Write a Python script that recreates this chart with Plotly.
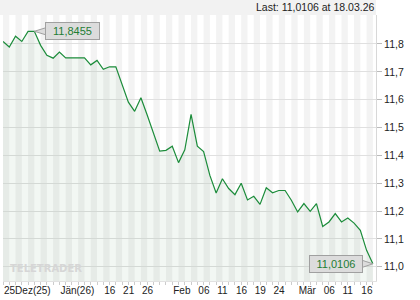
import plotly.graph_objects as go
import pandas as pd

# ---- data ----
dates = list(pd.bdate_range("2025-12-25", "2026-03-18"))
values = [
    11.809, 11.789, 11.828, 11.809, 11.845, 11.8455, 11.795, 11.759, 11.749, 11.771,
    11.750, 11.750, 11.750, 11.750, 11.725, 11.741, 11.709, 11.718, 11.718, 11.655,
    11.591, 11.558, 11.607, 11.545, 11.478, 11.415, 11.418, 11.433, 11.374, 11.420,
    11.547, 11.433, 11.414, 11.328, 11.265, 11.316, 11.281, 11.259, 11.300, 11.240,
    11.253, 11.224, 11.284, 11.266, 11.274, 11.274, 11.239, 11.197, 11.227, 11.199,
    11.227, 11.145, 11.161, 11.191, 11.161, 11.175, 11.157, 11.131, 11.059, 11.0106,
]
label_dates = ["2025-12-25", "2026-01-07", "2026-01-16", "2026-01-21", "2026-01-26",
               "2026-02-02", "2026-02-06", "2026-02-11", "2026-02-16", "2026-02-19",
               "2026-02-24", "2026-03-02", "2026-03-06", "2026-03-11", "2026-03-16"]
label_texts = ["25Dez(25)", "Jän(26)", "16", "21", "26",
               "Feb", "06", "11", "16", "19",
               "24", "Mär", "06", "11", "16"]
y_ticks = [11.0, 11.1, 11.2, 11.3, 11.4, 11.5, 11.6, 11.7, 11.8]

n = len(values)
x = list(range(n))
date_idx = {d.strftime("%Y-%m-%d"): i for i, d in enumerate(dates)}
tickvals = [date_idx[d] for d in label_dates]

def fmt(v):
    return f"{v:.4f}".replace(".", ",")

GREEN = "#1b8c3a"
TXT_GREEN = "#1f7d34"
FONT = "Liberation Sans"

fig = go.Figure()

# alternating day stripes
for i in range(0, n, 2):
    fig.add_shape(type="rect", xref="x", yref="paper", x0=i, x1=i + 1, y0=0, y1=1,
                  fillcolor="#f3f3f3", line_width=0, layer="below")

# header band
fig.add_shape(type="rect", xref="paper", yref="paper", x0=-3 / 373, x1=1,
              y0=1, y1=1 + 15 / 266, fillcolor="#f2f2f2", line_width=0, layer="below")

fig.add_trace(go.Scatter(
    x=x, y=values, mode="lines",
    line=dict(color=GREEN, width=1.2),
    fill="tozeroy", fillcolor="rgba(40,120,50,0.06)",
    hoverinfo="skip", showlegend=False,
))

imax = values.index(max(values))
ilast = n - 1

# callout pointers
fig.add_shape(type="path", xref="x", yref="y", xsizemode="pixel", ysizemode="pixel",
              xanchor=imax, yanchor=values[imax], path="M0,0 L13,4 L13,-4 Z",
              fillcolor="#dcdcdc", line=dict(color="#a0a0a0", width=1))
fig.add_shape(type="path", xref="x", yref="y", xsizemode="pixel", ysizemode="pixel",
              xanchor=ilast, yanchor=values[ilast], path="M0,0 L-12,4 L-12,-4 Z",
              fillcolor="#dcdcdc", line=dict(color="#a0a0a0", width=1))

fig.add_annotation(x=imax, y=values[imax], text=fmt(values[imax]), showarrow=True,
                   ax=38, ay=0, arrowcolor="rgba(0,0,0,0)",
                   bgcolor="#dcdcdc", bordercolor="#a0a0a0", borderwidth=1,
                   width=51, height=14, font=dict(family=FONT, size=11, color=TXT_GREEN))
fig.add_annotation(x=ilast, y=values[ilast], text=fmt(values[ilast]), showarrow=True,
                   ax=-37, ay=0, arrowcolor="rgba(0,0,0,0)",
                   bgcolor="#dcdcdc", bordercolor="#a0a0a0", borderwidth=1,
                   width=50, height=14, font=dict(family=FONT, size=11, color=TXT_GREEN))

# header text
fig.add_annotation(xref="paper", yref="paper", x=1, y=1, xanchor="right", yanchor="middle",
                   yshift=8, showarrow=False,
                   text=f"Last: {fmt(values[-1])} at {dates[-1].strftime('%d.%m.%y')}",
                   font=dict(family=FONT, size=10.5, color="#222222"))

# watermark
fig.add_annotation(xref="paper", yref="paper", x=5 / 373, y=13 / 266, xanchor="left",
                   yanchor="middle", showarrow=False, text="TELETRADER",
                   font=dict(family="DejaVu Sans", size=10, color="#d6d6d6", weight="bold"))

fig.update_layout(
    width=420, height=300,
    margin=dict(l=3, r=44, t=15, b=19, pad=0),
    paper_bgcolor="white", plot_bgcolor="white",
    separators=",.",
    showlegend=False,
    font=dict(family=FONT, size=10, color="#222222"),
    xaxis=dict(
        range=[0, n - 0.5], showgrid=False, zeroline=False,
        tickmode="array", tickvals=tickvals, ticktext=label_texts,
        tickangle=0,
        ticks="outside", ticklen=3, tickcolor="#cccccc",
        ticklabelposition="outside right",
        minor=dict(tickmode="linear", tick0=0, dtick=1, ticks="outside",
                   ticklen=3, tickcolor="#cccccc"),
        showline=True, linecolor="#e2e2e2", linewidth=1,
        tickfont=dict(family=FONT, size=10, color="#222222"),
        fixedrange=True,
    ),
    yaxis=dict(
        side="right", range=[10.949, 11.904],
        tickmode="array", tickvals=y_ticks, tickformat=".1f",
        showgrid=True, gridcolor="#e0e0e0", gridwidth=1, zeroline=False,
        ticks="outside", ticklen=5, tickcolor="#bbbbbb",
        showline=True, linecolor="#d8d8d8", linewidth=1,
        tickfont=dict(family=FONT, size=10.5, color="#222222"),
        fixedrange=True,
    ),
)

fig.write_html("out.html")
